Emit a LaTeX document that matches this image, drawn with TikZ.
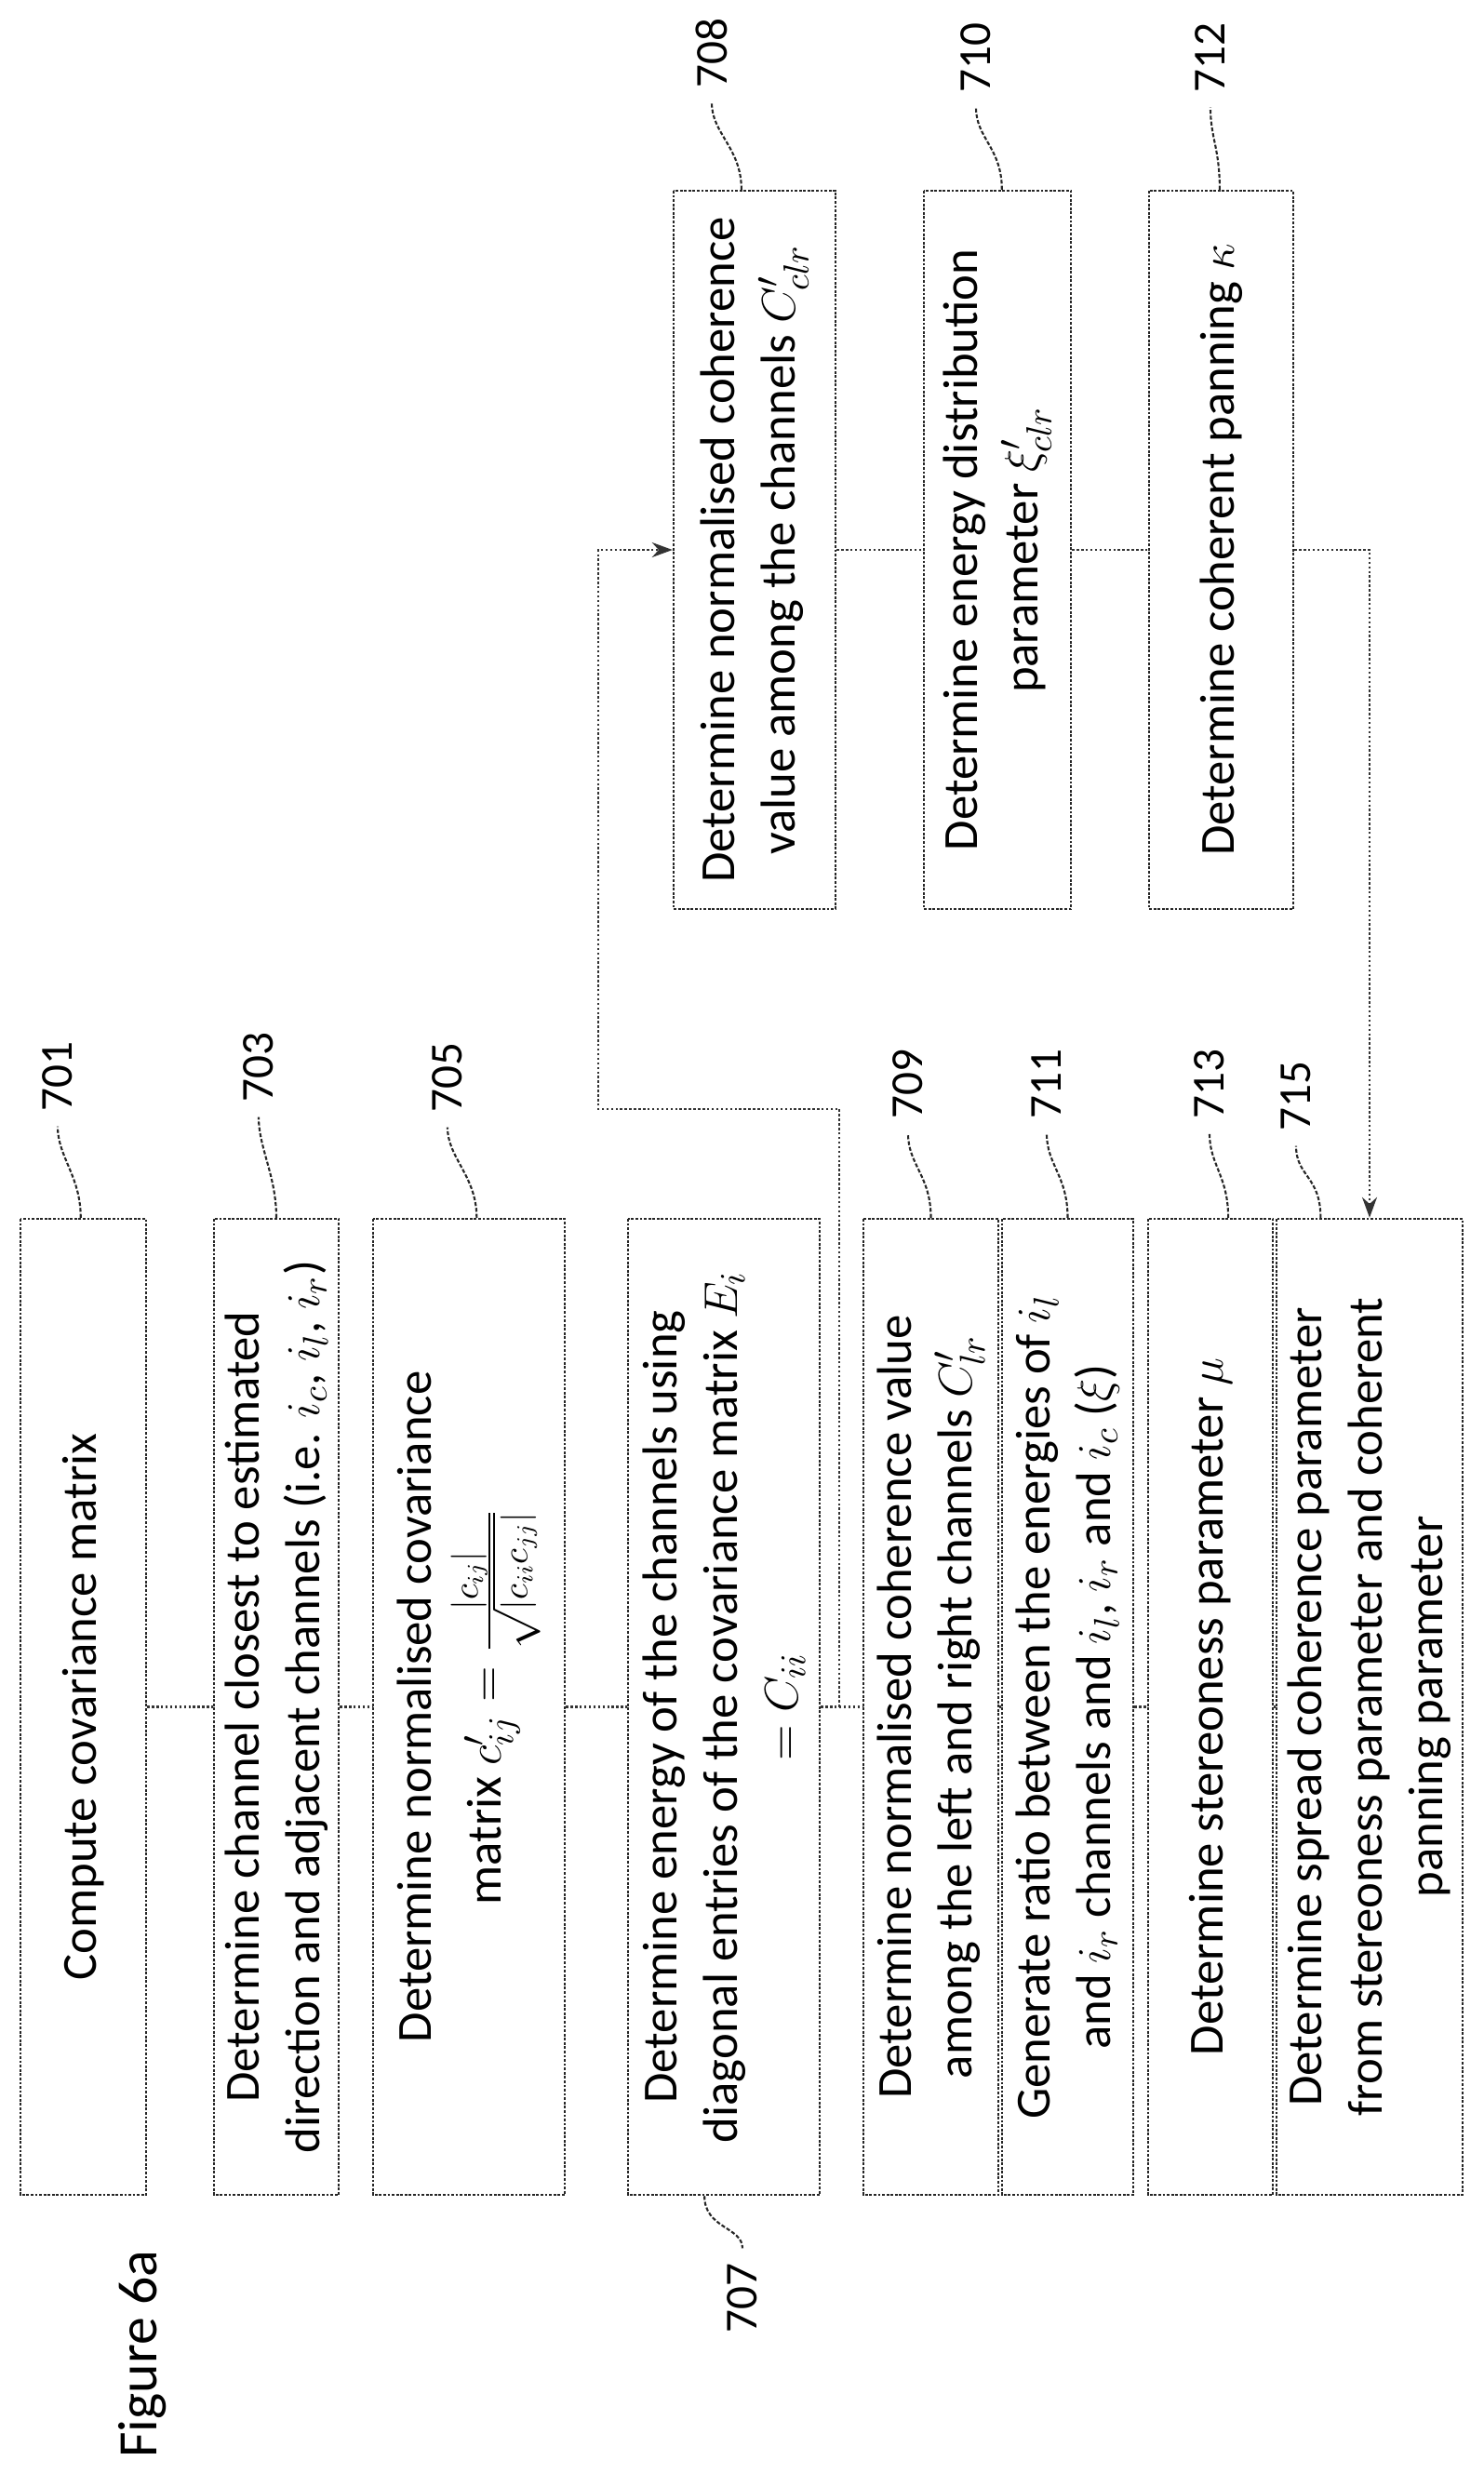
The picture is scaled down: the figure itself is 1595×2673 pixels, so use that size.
\documentclass[tikz,border=0pt]{standalone}
\usepackage{fontspec}
\setmainfont{Carlito}
\usetikzlibrary{calc,arrows.meta}
\begin{document}
\begin{tikzpicture}[x=0.1mm,y=0.1mm,
  box/.style={draw=black!85,line width=0.7pt,dash pattern=on 0.8pt off 0.5pt,rotate=90,inner sep=0pt,align=center,font=\fontsize{15}{18.5}\selectfont},
  lbl/.style={rotate=90,inner sep=1pt,font=\fontsize{14}{17}\selectfont},
  con/.style={draw=black!80,line width=0.6pt,dash pattern=on 0.7pt off 0.7pt},
  arr/.style={con,-{Stealth[length=2.2mm,width=1.6mm]}},
  lead/.style={draw=black!85,line width=0.6pt,dash pattern=on 1.2pt off 0.6pt}]
\useasboundingbox (0,0) rectangle (1595,-2673);
% left column
\node[box,minimum width=104.9mm,minimum height=13.5mm] (n701) at (89.5,-1834.5) {Compute covariance matrix};
\node[box,minimum width=104.9mm,minimum height=13.4mm] (n703) at (297,-1834.5) {Determine channel closest to estimated\\direction and adjacent channels (i.e. $i_c$, $i_l$, $i_r$)};
\node[box,minimum width=104.9mm,minimum height=20.6mm] (n705) at (504,-1834.5) {Determine normalised covariance\\[1mm]matrix $c'_{ij}=\frac{|c_{ij}|}{\sqrt{|c_{ii}c_{jj}|}}$};
\node[box,minimum width=104.9mm,minimum height=20.6mm] (n707) at (778,-1834.5) {Determine energy of the channels using\\diagonal entries of the covariance matrix $E_i$\\$=C_{ii}$};
\node[box,minimum width=104.9mm,minimum height=14.5mm] (n709) at (1000.5,-1834.5) {Determine normalised coherence value\\among the left and right channels $C'_{lr}$};
\node[box,minimum width=104.9mm,minimum height=14.1mm] (n711) at (1147.5,-1834.5) {Generate ratio between the energies of $i_l$\\and $i_r$ channels and $i_l$, $i_r$ and $i_c$ ($\xi$)};
\node[box,minimum width=104.9mm,minimum height=13.4mm] (n713) at (1301,-1834.5) {Determine stereoness parameter $\mu$};
\node[box,minimum width=104.9mm,minimum height=20mm] (n715) at (1472,-1834.5) {Determine spread coherence parameter\\from stereoness parameter and coherent\\panning parameter};
% right column
\node[box,minimum width=77.2mm,minimum height=17.4mm] (n708) at (811,-591) {Determine normalised coherence\\value among the channels $C'_{clr}$};
\node[box,minimum width=77.2mm,minimum height=15.8mm] (n710) at (1072,-591) {Determine energy distribution\\parameter $\xi'_{clr}$};
\node[box,minimum width=77.2mm,minimum height=15.5mm] (n712) at (1312.5,-591) {Determine coherent panning $\kappa$};
% labels
\node[lbl] (l701) at (62,-1157) {701};
\node[lbl] (l703) at (278,-1147) {703};
\node[lbl] (l705) at (481,-1158) {705};
\node[lbl] (l707) at (798,-2470) {707};
\node[lbl] (l709) at (976,-1165) {709};
\node[lbl] (l711) at (1125,-1165) {711};
\node[lbl] (l713) at (1300,-1165) {713};
\node[lbl] (l715) at (1393,-1178) {715};
\node[lbl] (l708) at (765,-57) {708};
\node[lbl] (l710) at (1049,-62) {710};
\node[lbl] (l712) at (1301,-62) {712};
\node[lbl,font=\fontsize{17}{20}\selectfont] (fig) at (153,-2530) {Figure 6a};
% leaders
\foreach \n/\f in {701/0.48,703/0.5,705/0.54,709/0.5,711/0.5,713/0.64,715/0.24,708/0.42,710/0.53,712/0.49}{
  \draw[lead,shorten >=1.2mm] ($(n\n.north east)!\f!(n\n.south east)$) .. controls +(0,45) and +(0,-45) .. (l\n.west);
}
\draw[lead,shorten >=1.2mm] ($(n707.north west)!0.4!(n707.south west)$) .. controls +(0,-35) and +(0,35) .. (l707.east);
% connectors
\draw[con] (n701.south) -- (n703.north);
\draw[con] (n703.south) -- (n705.north);
\draw[con] (n705.south) -- (n707.north);
\draw[con] (n707.south) -- (n709.north);
\draw[con] (n709.south) -- (n711.north);
\draw[con] (n711.south) -- (n713.north);
\draw[con] (n713.south) -- (n715.north);
\coordinate (j) at ($(n707.south)!0.45!(n709.north)$);
\coordinate (c1) at (643,-1192);
\draw[arr] (j) |- (c1) |- (n708.north);
\draw[con] (n708.south) -- (n710.north);
\draw[con] (n710.south) -- (n712.north);
\coordinate (c2) at (1472,-591);
\draw[arr] (n712.south) -- (c2) -- (n715.east);
\end{tikzpicture}
\end{document}
